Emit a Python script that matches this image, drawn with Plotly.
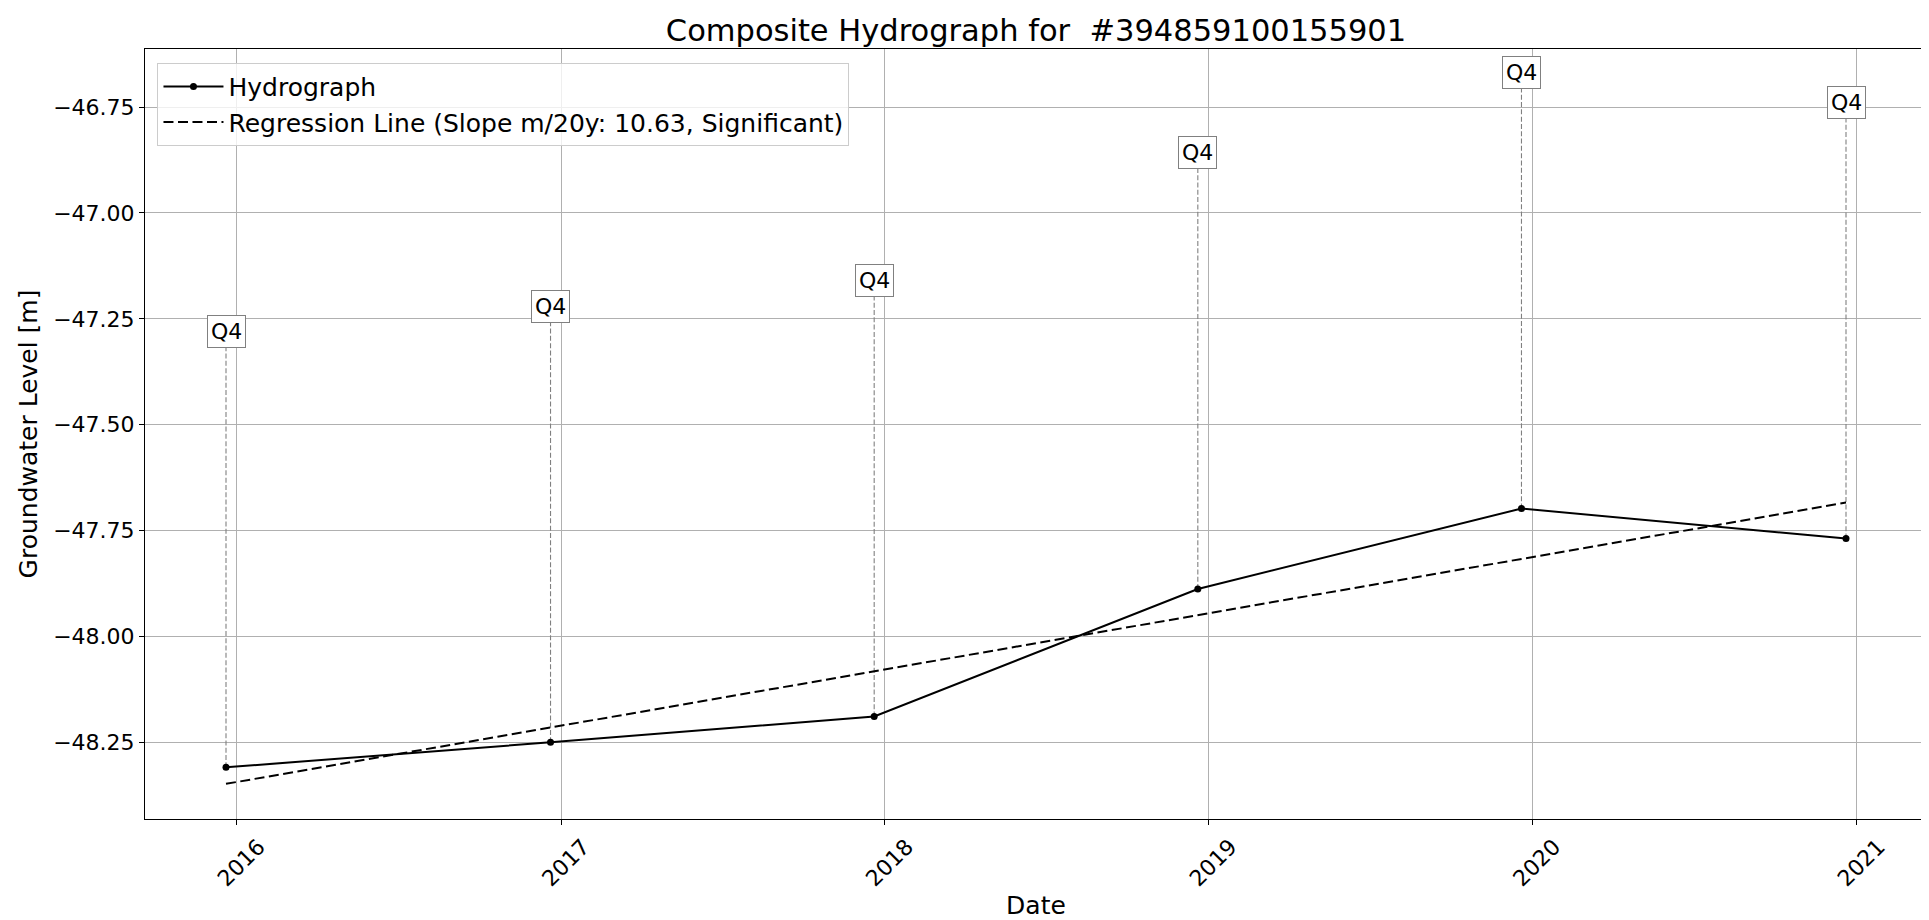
import plotly.graph_objects as go
import pandas as pd

# ---- data ----
dates = ["2015-12-20", "2016-12-20", "2017-12-20", "2018-12-20", "2019-12-20", "2020-12-20"]
levels = [-48.309, -48.250, -48.189, -47.888, -47.698, -47.769]
quarter_labels = ["Q4", "Q4", "Q4", "Q4", "Q4", "Q4"]
reg_dates = ["2015-12-20", "2020-12-20"]
reg_levels = [-48.348, -47.684]
y_ticks = [-48.25, -48.00, -47.75, -47.50, -47.25, -47.00, -46.75]
title_text = "Composite Hydrograph for \u00a0#394859100155901"
hydro_name = "Hydrograph"
reg_name = "Regression Line (Slope m/20y: 10.63, Significant)"

LABEL_OFFSET = 1.0
FONT = "DejaVu Sans"

fig = go.Figure()

# dashed grey connectors from each point up to its label
for d, v in zip(dates, levels):
    fig.add_trace(go.Scatter(
        x=[d, d], y=[v, v + LABEL_OFFSET], mode="lines",
        line=dict(color="#808080", width=1.1, dash="5px,2.3px"),
        showlegend=False, hoverinfo="skip"))

fig.add_trace(go.Scatter(
    x=dates, y=levels, mode="lines+markers", name=hydro_name,
    line=dict(color="black", width=2),
    marker=dict(color="black", size=7, symbol="circle")))

fig.add_trace(go.Scatter(
    x=reg_dates, y=reg_levels, mode="lines", name=reg_name,
    line=dict(color="black", width=2, dash="10px,4.5px")))

for d, v, q in zip(dates, levels, quarter_labels):
    fig.add_annotation(
        x=d, y=v + LABEL_OFFSET, xref="x", yref="y", text=q, showarrow=False,
        yanchor="bottom", yshift=-4,
        font=dict(family=FONT, size=22, color="black"),
        bgcolor="white", bordercolor="#808080", borderwidth=1, borderpad=3)

# x range with 5% margins like the original
dts = pd.to_datetime(dates)
span = dts.max() - dts.min()
x_range = [dts.min() - span * 0.05, dts.max() + span * 0.05]

fig.update_layout(
    width=1929, height=920,
    margin=dict(l=137, r=10, t=41, b=109, autoexpand=False),
    paper_bgcolor="white", plot_bgcolor="white",
    font=dict(family=FONT, size=22, color="black"),
    title=dict(text=title_text, x=0.5, xref="paper", y=1 - 22 / 920, yref="container",
               yanchor="middle", xanchor="center",
               font=dict(family=FONT, size=30.5, color="black")),
    showlegend=True,
    legend=dict(x=0.007, y=0.982, xanchor="left", yanchor="top",
                bgcolor="rgba(255,255,255,0.8)", bordercolor="#cccccc", borderwidth=1,
                font=dict(family=FONT, size=25, color="black"),
                tracegroupgap=0, itemwidth=60),
)

fig.update_xaxes(
    type="date", range=x_range, automargin=False,
    tick0="2016-01-01", dtick="M12", tickformat="%Y",
    tickangle=-45, ticklabelshift=22,
    showgrid=True, gridcolor="#b0b0b0", gridwidth=1,
    showline=True, linecolor="black", linewidth=1.1, mirror=True,
    ticks="outside", ticklen=5, tickcolor="black",
    tickfont=dict(family=FONT, size=22, color="black"),
    title=dict(text="Date", font=dict(family=FONT, size=25, color="black"), standoff=6),
    zeroline=False)

fig.update_yaxes(
    range=[-48.431, -46.613], automargin=False,
    tickvals=y_ticks, tickformat=".2f",
    showgrid=True, gridcolor="#b0b0b0", gridwidth=1,
    showline=True, linecolor="black", linewidth=1.1, mirror=True,
    ticks="outside", ticklen=5, tickcolor="black",
    tickfont=dict(family=FONT, size=22, color="black"),
    title=dict(text="Groundwater Level [m]", font=dict(family=FONT, size=25, color="black"), standoff=8),
    zeroline=False)

fig.write_html("out.html")
